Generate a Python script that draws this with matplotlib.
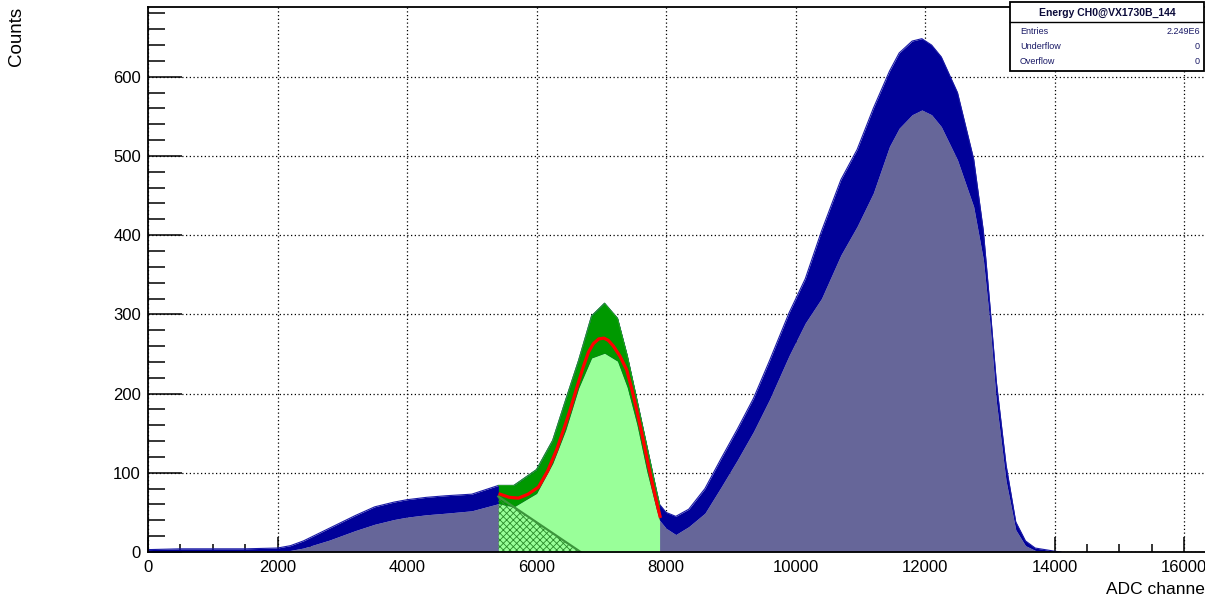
import numpy as np
import matplotlib
import matplotlib.pyplot as plt
from matplotlib.patches import Rectangle
from matplotlib.lines import Line2D
from matplotlib.ticker import MultipleLocator

matplotlib.use('Agg')
plt.rcParams['font.family'] = ['Liberation Sans', 'DejaVu Sans']
plt.rcParams['hatch.linewidth'] = 0.6

adc = [0, 500, 1000, 1500, 2000, 2200, 2400, 2600, 2800, 3000, 3200, 3500,
       3800, 4000, 4300, 4600, 5000, 5410, 5650, 6000, 6250, 6450, 6650,
       6850, 7050, 7250, 7400, 7550, 7700, 7850, 7900, 8000, 8150, 8350,
       8600, 8850, 9100, 9350, 9600, 9900, 10150, 10400, 10700, 10950,
       11200, 11450, 11600, 11800, 11950, 12100, 12250, 12500, 12750, 12900,
       13000, 13100, 13250, 13400, 13550, 13700, 14000, 14100]
upper = [3, 4, 4, 4, 5, 8, 14, 22, 30, 38, 46, 57,
         63, 66, 69, 71, 73, 84, 84, 104, 141, 192, 242,
         298, 314, 295, 248, 192, 135, 78, 60, 50, 45, 54,
         80, 118, 155, 194, 242, 302, 345, 405, 470, 508,
         560, 607, 630, 645, 648, 640, 625, 580, 496, 405,
         312, 215, 110, 38, 14, 5, 1, 0]
lower = [0, 0, 0, 1, 1, 2, 5, 10, 15, 21, 27, 35,
         41, 44, 47, 49, 52, 61, 57, 74, 112, 154, 207,
         245, 251, 241, 208, 161, 103, 54, 40, 30, 22, 32,
         49, 82, 116, 152, 193, 248, 289, 320, 375, 411,
         453, 512, 535, 552, 558, 552, 537, 495, 436, 369,
         290, 190, 90, 28, 8, 2, 0, 0]

# fit range and fitted curve (gaus + linear background)
fit_lo, fit_hi = 5410, 7900
fit_x = [5436, 5580, 5720, 5870, 6030, 6170, 6310, 6420, 6517, 6620, 6723,
         6800, 6877, 6960, 7042, 7110, 7186, 7290, 7392, 7470, 7547, 7620,
         7701, 7800, 7907]
fit_y = [73, 69, 68, 73, 82, 102, 129, 155, 179, 207, 234,
         252, 263, 269, 270, 267, 260, 247, 230, 206, 179, 152,
         120, 82, 45]
bg_x = [5410, 6680]
bg_y = [70, 0]

stats_title = 'Energy CH0@VX1730B_144'
stats_rows = [('Entries', '2.249E6'), ('Underflow', '0'), ('Overflow', '0')]

W, H = 1205, 599
PT = 0.72  # points per pixel at dpi 100
fig = plt.figure(figsize=(W / 100, H / 100), dpi=100)
ax = fig.add_axes([148 / W, 47 / H, (1209 - 148) / W, (552 - 7) / H])

x = np.array(adc)
up = np.array(upper)
lo = np.array(lower)

# blue histogram
ax.fill_between(x, 0, lo, color='#666699', lw=0, zorder=2)
ax.fill_between(x, lo, up, color='#000099', lw=0, zorder=2)
ax.plot(x, up, color='#1a1aa6', lw=0.8, zorder=2)

# green part inside the fit range
m = (x >= fit_lo) & (x <= fit_hi)
ax.fill_between(x[m], 0, lo[m], color='#99ff99', lw=0, zorder=3)
ax.fill_between(x[m], lo[m], up[m], color='#009900', lw=0, zorder=3)
ax.plot(x[m], up[m], color='#22a022', lw=0.8, zorder=3)

# linear background, hatched
ax.fill_between(bg_x, 0, bg_y, facecolor='none', edgecolor='#2a8a2a',
                hatch='xxxxx', lw=0, zorder=4)
ax.plot(bg_x, bg_y, color='#3c963c', lw=1.6, zorder=4)

ax.plot(fit_x, fit_y, color='red', lw=2.3, zorder=5)

ax.set_xlim(0, 16384)
ax.set_ylim(0, 688)
ax.xaxis.set_minor_locator(MultipleLocator(500))
ax.yaxis.set_minor_locator(MultipleLocator(20))
ax.set_xticks(range(0, 16001, 2000))
ax.set_yticks(range(0, 601, 100))
ax.tick_params(axis='both', which='both', direction='in', labelsize=12,
               width=1.1, color='black', zorder=6)
ax.tick_params(axis='x', which='major', length=15 * PT, pad=8 * PT)
ax.tick_params(axis='x', which='minor', length=8 * PT)
ax.tick_params(axis='y', which='major', length=34 * PT, pad=7 * PT)
ax.tick_params(axis='y', which='minor', length=17 * PT)
ax.grid(True, which='major', color='black', linestyle=(0, (1, 2)), lw=0.9)
ax.set_axisbelow(True)
for s in ax.spines.values():
    s.set_linewidth(1.3)
    s.set_zorder(6)

fig.text(16 / W, 1 - 7 / H, 'Counts', rotation=90, ha='center', va='top',
         fontsize=13.5)
fig.text(1209 / W, 1 - 589 / H, 'ADC channel', ha='right', va='center',
         fontsize=12.5)

# stats box
fig.add_artist(Rectangle((1010 / W, 1 - 71 / H), 194 / W, 69 / H,
                         transform=fig.transFigure, facecolor='white',
                         edgecolor='black', lw=1.3, zorder=10))
fig.add_artist(Line2D([1010 / W, 1204 / W], [1 - 22 / H, 1 - 22 / H],
                      transform=fig.transFigure, color='black', lw=1,
                      zorder=11))
fig.text(1107 / W, 1 - 13 / H, stats_title, ha='center', va='center',
         fontsize=7.5, fontweight='bold', color='#0a0a3a', zorder=12)
for i, (k, v) in enumerate(stats_rows):
    yy = 1 - (31 + 15.5 * i) / H
    fig.text(1020 / W, yy, k, ha='left', va='center', fontsize=6.5,
             color='#1a1a66', zorder=12)
    fig.text(1200 / W, yy, v, ha='right', va='center', fontsize=6.5,
             color='#1a1a66', zorder=12)

fig.savefig('out.png', dpi=100)
